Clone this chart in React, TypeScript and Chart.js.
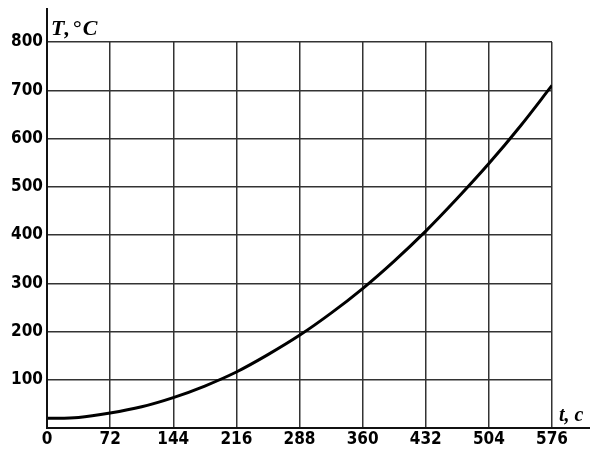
import React, { useEffect, useRef } from "react";
import { Chart, registerables } from "chart.js";

Chart.register(...registerables);

const timeS = [0, 36, 72, 108, 144, 180, 216, 252, 288, 324, 360, 396, 432, 468, 504, 540, 576];
const tempC = [20, 22, 31, 44, 63, 87, 116, 152, 192, 238, 289, 346, 408, 476, 548, 626, 710];
const xTicks = [0, 72, 144, 216, 288, 360, 432, 504, 576];
const yTicks = [0, 100, 200, 300, 400, 500, 600, 700, 800];
const yLabel = "T,°C";
const xLabel = "t, c";

const axisExtras = {
  id: "axisExtras",
  afterDraw(chart: any) {
    const { ctx, chartArea } = chart;
    ctx.save();
    ctx.strokeStyle = "#111";
    ctx.lineWidth = 2;
    ctx.beginPath();
    ctx.moveTo(chartArea.left, chartArea.bottom);
    ctx.lineTo(chartArea.left, 8);
    ctx.moveTo(chartArea.left, chartArea.bottom);
    ctx.lineTo(590, chartArea.bottom);
    ctx.stroke();
    ctx.fillStyle = "#000";
    ctx.textBaseline = "alphabetic";
    ctx.textAlign = "left";
    ctx.font = "bold italic 22px 'Liberation Serif'";
    (ctx as any).letterSpacing = "2px";
    ctx.fillText(yLabel, chartArea.left + 4, 35);
    ctx.font = "bold italic 20px 'Liberation Serif'";
    (ctx as any).letterSpacing = "0px";
    ctx.fillText(xLabel, 559, 421);
    ctx.restore();
  },
};

const tickFont = { family: "'DejaVu Sans Condensed', 'DejaVu Sans'", size: 17, weight: "bold" };

export default function App() {
  const ref = useRef<HTMLCanvasElement>(null);
  useEffect(() => {
    document.body.style.margin = "0";
    const chart = new Chart(ref.current!, {
      type: "line",
      data: {
        datasets: [
          {
            data: timeS.map((t, i) => ({ x: t, y: tempC[i] })),
            borderColor: "#000",
            borderWidth: 3,
            pointRadius: 0,
            cubicInterpolationMode: "monotone",
            fill: false,
          },
        ],
      },
      options: {
        responsive: false,
        animation: false,
        devicePixelRatio: 1,
        layout: { padding: { left: 0, top: 42, right: 40, bottom: 0 } },
        plugins: { legend: { display: false }, tooltip: { enabled: false } },
        scales: {
          x: {
            type: "linear",
            min: 0,
            max: 576,
            afterBuildTicks: (s: any) => {
              s.ticks = xTicks.map((v) => ({ value: v }));
            },
            afterFit: (s: any) => {
              s.height = 22;
            },
            grid: { color: "#333", lineWidth: 1.5, drawTicks: false },
            border: { color: "#111", width: 2 },
            ticks: {
              color: "#000",
              font: tickFont,
              padding: 1,
              maxRotation: 0,
              autoSkip: false,
            },
          },
          y: {
            type: "linear",
            min: 0,
            max: 800,
            afterBuildTicks: (s: any) => {
              s.ticks = yTicks.map((v) => ({ value: v }));
            },
            afterFit: (s: any) => {
              s.width = 47;
            },
            grid: { color: "#333", lineWidth: 1.5, drawTicks: false },
            border: { color: "#111", width: 2 },
            ticks: {
              color: "#000",
              font: tickFont,
              padding: 4,
              autoSkip: false,
              callback: (v: any) => (v === 0 ? "" : String(v)),
            },
          },
        },
      },
      plugins: [axisExtras],
    } as any);
    return () => chart.destroy();
  }, []);
  return <canvas ref={ref} width={592} height={450} style={{ display: "block" }} />;
}
